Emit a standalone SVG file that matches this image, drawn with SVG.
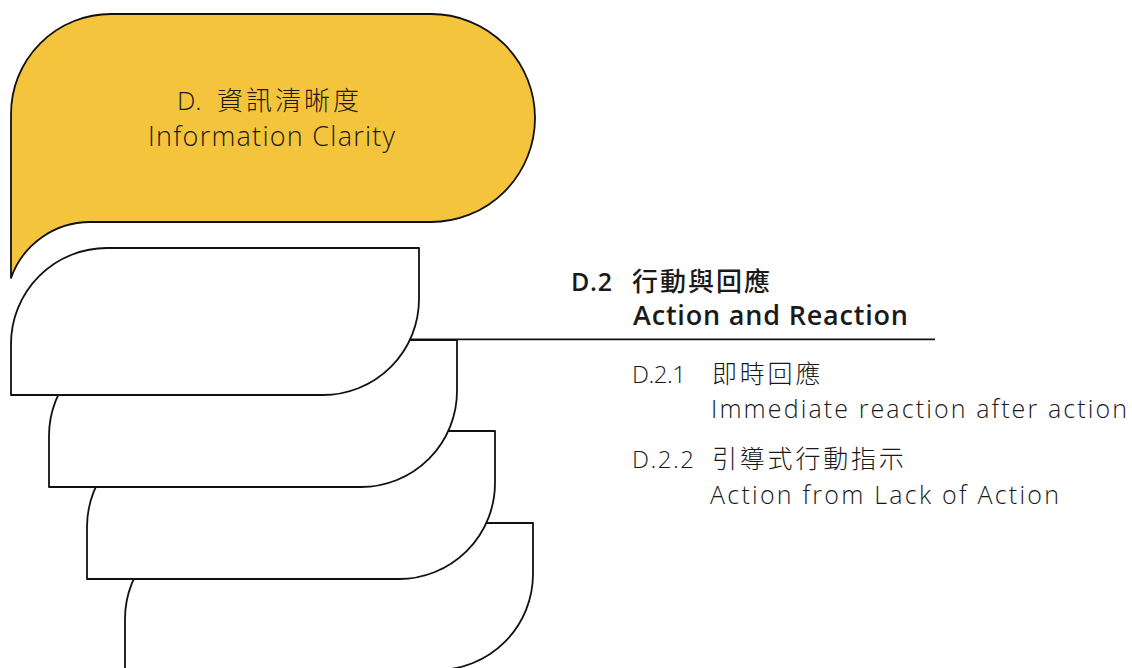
<svg xmlns="http://www.w3.org/2000/svg" width="1132" height="668" viewBox="0 0 1132 668">
<style>
.sh{stroke:#111;stroke-width:1.8;stroke-linejoin:round}
.w{fill:#fff}
.y{fill:#F4C43D}
.t{font-family:"Open Sans","Noto Sans CJK TC",sans-serif;fill:#1a1a1a}
.lt{font-weight:300}
.bd{font-weight:600}
.cjk{font-family:"Noto Sans CJK TC",sans-serif;fill:#1a1a1a}
</style>
<rect width="1132" height="668" fill="#fff"/>
<g id="node-d24">
<path class="sh w" d="M125,670 L125,619 A96,96 0 0 1 221,523 L533,523 L533,574 A96,96 0 0 1 437,670 Z"/>
</g>
<g id="node-d23">
<path class="sh w" d="M87,579 L87,527 A96,96 0 0 1 183,431 L495,431 L495,483 A96,96 0 0 1 399,579 Z"/>
</g>
<g id="node-d22">
<path class="sh w" d="M49,487 L49,436 A96,96 0 0 1 145,340 L457,340 L457,391 A96,96 0 0 1 361,487 Z"/>
</g>
<g id="connectors">
<line x1="300" y1="339.3" x2="935" y2="339.3" stroke="#111" stroke-width="1.8"/>
</g>
<g id="node-d21">
<path class="sh w" d="M11,395 L11,344 A96,96 0 0 1 107,248 L419,248 L419,299 A96,96 0 0 1 323,395 Z"/>
</g>
<g id="node-d">
<path class="sh y" d="M11,114 A100,100 0 0 1 111,14 L431,14 A104,104 0 0 1 431,222 L90,222 A84,84 0 0 0 11,278 Z"/>
<text class="t lt" font-size="26"><tspan x="177" y="109.5">D.</tspan><tspan class="cjk" x="217" y="110" font-size="26" letter-spacing="3">資訊清晰度</tspan><tspan x="148" y="146" font-size="27" textLength="247" lengthAdjust="spacing">Information Clarity</tspan></text>
</g>
<g id="label-d2">
<text class="t bd" x="571" y="291" font-size="25" textLength="41" lengthAdjust="spacing">D.2</text>
<text class="cjk" x="632" y="291" font-size="26" font-weight="500" letter-spacing="2">行動與回應</text>
<text class="t bd" x="633" y="325.3" font-size="27" textLength="275" lengthAdjust="spacing">Action and Reaction</text>
</g>
<g id="label-d21">
<text class="t lt" x="632" y="383.3" font-size="24" textLength="54" lengthAdjust="spacing">D.2.1</text>
<text class="cjk" x="712" y="383.3" font-size="25" font-weight="300" letter-spacing="2.8">即時回應</text>
<text class="t lt" x="711" y="418.3" font-size="25" textLength="416" lengthAdjust="spacing">Immediate reaction after action</text>
</g>
<g id="label-d22">
<text class="t lt" x="632" y="468.3" font-size="24" textLength="62" lengthAdjust="spacing">D.2.2</text>
<text class="cjk" x="712" y="468.3" font-size="25" font-weight="300" letter-spacing="2.8">引導式行動指示</text>
<text class="t lt" x="710" y="504" font-size="25" textLength="349" lengthAdjust="spacing">Action from Lack of Action</text>
</g>
</svg>
